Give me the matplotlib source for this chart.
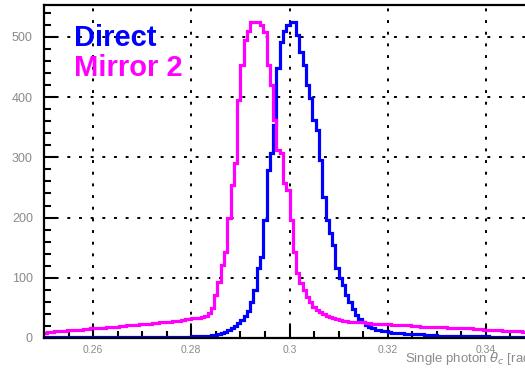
import numpy as np
import matplotlib
matplotlib.use("Agg")
import matplotlib.pyplot as plt
from matplotlib.ticker import MultipleLocator

# histogram binning: 150 bins between 0.25 and 0.35 rad
x_lo, x_hi, n_bins = 0.25, 0.35, 150

direct = [
    1, 1, 1, 1, 1, 1, 1, 1, 1, 1, 1, 1, 1, 1, 1, 1, 1, 1, 1, 1,
    1, 1, 1, 1, 1, 1, 1, 1, 1, 1, 2, 2, 2, 2, 2, 2, 2, 2, 2, 2,
    2, 2, 2, 2, 2, 3, 3, 3, 4, 4, 4, 5, 5, 6, 8, 10, 13, 17, 20, 25,
    30, 37, 45, 60, 80, 116, 135, 196, 279, 307, 354, 449, 492, 510, 520, 525, 525, 503, 475, 453,
    420, 399, 362, 345, 296, 234, 196, 175, 155, 116, 100, 88, 72, 60, 48, 38, 32, 26, 22, 19,
    16, 14, 13, 12, 11, 10, 9, 9, 8, 8, 7, 7, 6, 6, 6, 6, 5, 5, 5, 5,
    4, 4, 4, 4, 4, 4, 3, 3, 3, 3, 3, 3, 3, 3, 3, 3, 2, 2, 2, 2,
    2, 2, 2, 2, 2, 2, 2, 2, 2, 2,
]

mirror2 = [
    9, 10, 10, 11, 11, 12, 12, 13, 13, 13, 14, 14, 15, 15, 16, 16, 17, 17, 17, 18,
    18, 19, 19, 20, 20, 21, 21, 22, 22, 23, 23, 24, 24, 25, 25, 26, 26, 27, 27, 28,
    28, 29, 30, 31, 32, 33, 33, 34, 35, 36, 42, 50, 71, 93, 121, 143, 199, 254, 291, 395,
    453, 495, 510, 525, 525, 525, 520, 508, 453, 420, 362, 312, 307, 257, 246, 196, 143, 108, 92, 80,
    68, 60, 52, 47, 43, 40, 37, 35, 33, 32, 30, 29, 28, 27, 27, 26, 26, 26, 25, 25,
    24, 24, 24, 23, 23, 23, 22, 22, 22, 21, 21, 21, 20, 20, 20, 19, 19, 18, 18, 18,
    18, 18, 18, 17, 17, 17, 17, 17, 16, 16, 16, 15, 15, 15, 14, 14, 14, 13, 13, 13,
    12, 12, 12, 11, 11, 11, 10, 10, 10, 10,
]

x_ticks = [0.26, 0.28, 0.30, 0.32, 0.34]
x_tick_labels = ["0.26", "0.28", "0.3", "0.32", "0.34"]
y_ticks = [0, 100, 200, 300, 400, 500]

edges = np.linspace(x_lo, x_hi, n_bins + 1)

fig = plt.figure(figsize=(5.25, 3.70), dpi=100)
ax = fig.add_axes([44/525, 32/370, 491/525, 333/370])

ax.stairs(direct, edges, baseline=None, color="#0000ff", linewidth=2.3)
ax.stairs(mirror2, edges, baseline=None, color="#ff00ff", linewidth=2.3)

ax.set_xlim(x_lo, x_hi)
ax.set_ylim(0, 553)

ax.set_xticks(x_ticks)
ax.set_xticklabels(x_tick_labels)
ax.set_yticks(y_ticks)
ax.xaxis.set_minor_locator(MultipleLocator(0.005))
ax.yaxis.set_minor_locator(MultipleLocator(20))

ax.tick_params(axis="both", which="both", direction="in", colors="black", width=1.5)
ax.tick_params(axis="both", which="major", length=9)
ax.tick_params(axis="both", which="minor", length=5)
ax.tick_params(axis="x", which="major", labelsize=7.5, labelcolor="#8a8a8a", pad=5)
ax.tick_params(axis="y", which="major", labelsize=9, labelcolor="#8a8a8a", pad=8)
ax.tick_params(top=False, right=False, which="both")

for lab in ax.get_xticklabels() + ax.get_yticklabels():
    lab.set_family("Liberation Sans")

ax.grid(True, which="major", color="black", linestyle=(0, (1.5, 4.5)), linewidth=1.4)
ax.set_axisbelow(True)

for side in ["left", "bottom", "top", "right"]:
    ax.spines[side].set_linewidth(1.6)

ax.text(0.061, 0.90, "Direct", transform=ax.transAxes, color="#0000ff",
        fontsize=21, fontweight="bold", family="Liberation Sans", va="center")
ax.text(0.061, 0.81, "Mirror 2", transform=ax.transAxes, color="#ff00ff",
        fontsize=21, fontweight="bold", family="Liberation Sans", va="center")

# axis title sits at the right end of the axis, partly outside the cropped frame
fig.text(535/525, 0.030, r"Single photon $\theta_{c}$ [rad]", ha="right", va="center",
         fontsize=9.5, color="#8a8a8a", family="Liberation Sans")

plt.savefig("out.png", dpi=100)
